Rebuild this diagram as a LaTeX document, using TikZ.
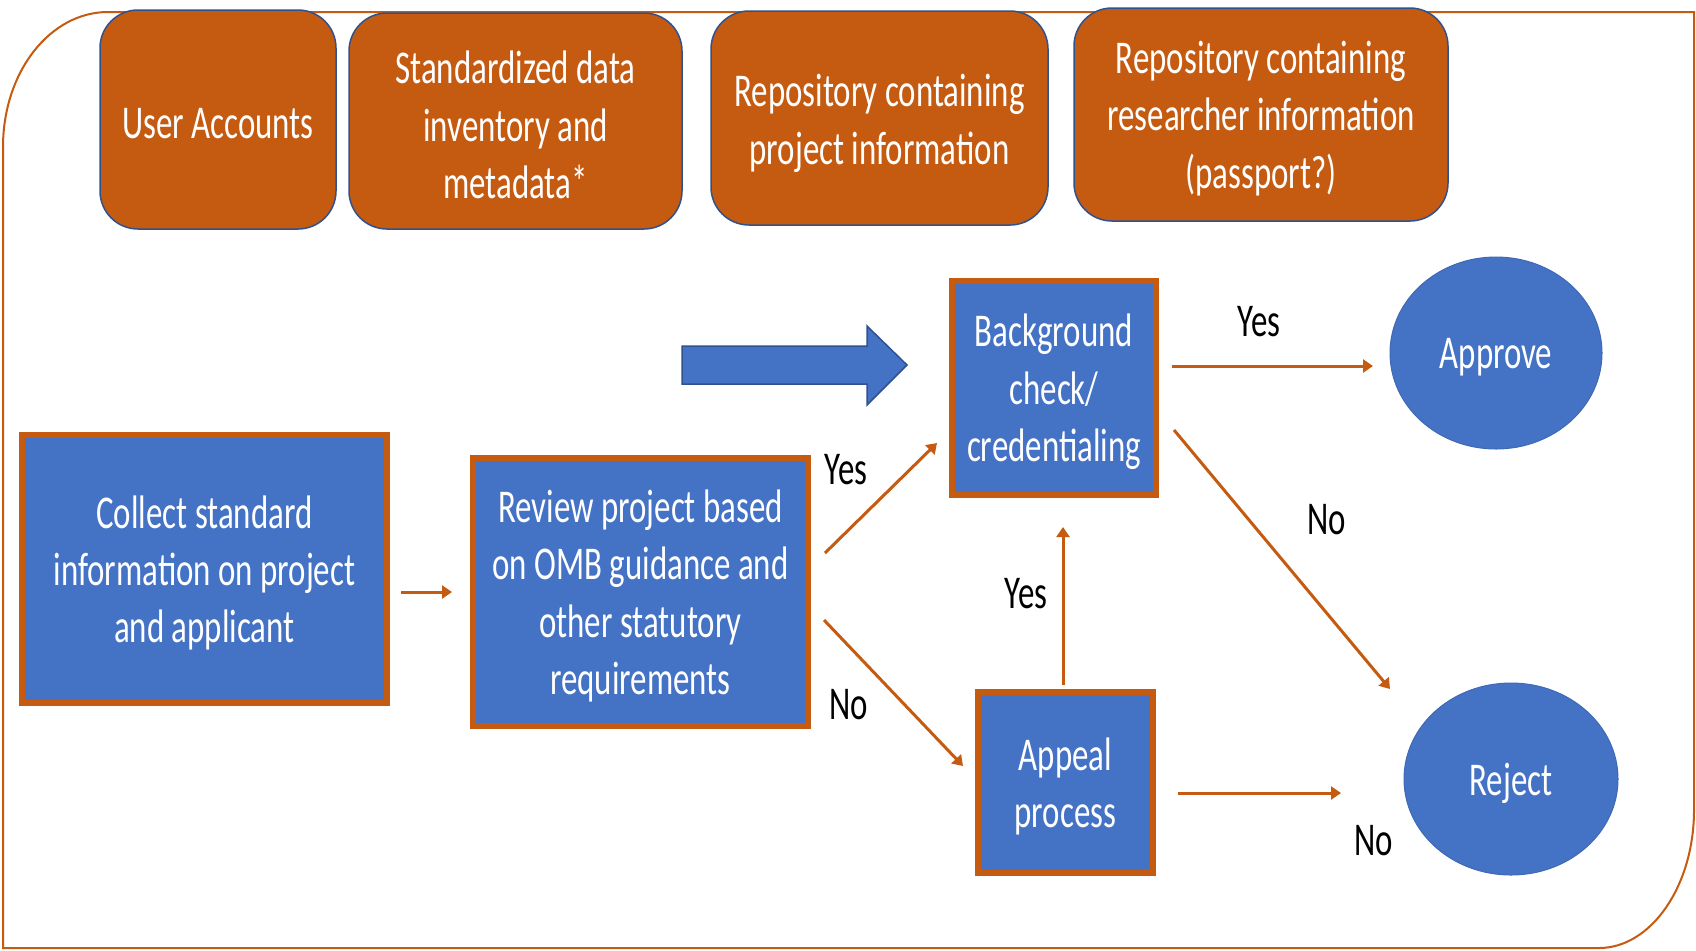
\documentclass[tikz,border=0pt]{standalone}
\usepackage{fontspec}
\setmainfont{Carlito}[FakeStretch=0.70]
\usetikzlibrary{arrows.meta,shapes.geometric}
\definecolor{orng}{HTML}{C55A11}
\definecolor{bl}{HTML}{4472C4}
\definecolor{dbl}{HTML}{2F528F}
\begin{document}
\begin{tikzpicture}[x=0.5pt,y=-0.5pt,
 txt/.style={font=\fontsize{23.5}{28.7}\selectfont, align=center, inner sep=0pt},
 intext/.style={txt, text=white, yshift=-2pt},
 topbox/.style={rectangle, rounded corners=19pt, fill=orng, draw=dbl, line width=0.75pt, inner sep=0pt},
 bluebox/.style={rectangle, fill=bl, draw=orng, line width=3pt, inner sep=0pt},
 oval/.style={ellipse, fill=bl, draw=bl!92!black, line width=0.5pt, inner sep=0pt},
 lbl/.style={txt, text=black},
 arr/.style={draw=orng, line width=1.5pt, -{Triangle[length=5pt,width=6.5pt]}},
 frame/.style={draw=orng, line width=1pt},
 blockarrow/.style={fill=bl, draw=dbl, line width=0.75pt}]
\useasboundingbox (0,0) rectangle (1696,950);

% outer frame
\draw[frame] (3,147) .. controls (3,72) and (50,12) .. (108,12) -- (1694,12) -- (1694,810)
  .. controls (1694,886) and (1651,948) .. (1599,948) -- (3,948) -- cycle;

% top boxes
\node[topbox, minimum width=118pt, minimum height=109.5pt,
  label={[intext]center:User Accounts}] (ua) at (218,119.5) {};
\node[topbox, minimum width=166.5pt, minimum height=108pt,
  label={[intext]center:Standardized data\\inventory and\\metadata*}] (sd) at (515.5,121) {};
\node[topbox, minimum width=168.5pt, minimum height=107pt,
  label={[intext, yshift=-0.7pt]center:Repository containing\\project information}] (rp) at (879.5,118) {};
\node[topbox, minimum width=187pt, minimum height=106.5pt,
  label={[intext]center:Repository containing\\researcher information\\(passport?)}] (rr) at (1261,114.5) {};

% block arrow
\draw[blockarrow] (682,346) -- (867,346) -- (867,326) -- (907,365) -- (867,405) -- (867,384) -- (682,384) -- cycle;

% process boxes
\node[bluebox, minimum width=182.5pt, minimum height=134pt,
  label={[intext]center:Collect standard\\information on project\\and applicant}] (collect) at (204.5,569) {};
\node[bluebox, minimum width=167.5pt, minimum height=134pt,
  label={[intext]center:Review project based\\on OMB guidance and\\other statutory\\requirements}] (review) at (640.5,592) {};
\node[bluebox, minimum width=102pt, minimum height=107pt,
  label={[intext]center:Background\\check/\\credentialing}] (bg) at (1054,388) {};
\node[bluebox, minimum width=87.5pt, minimum height=90.5pt,
  label={[intext]center:Appeal\\process}] (appeal) at (1065.5,782.5) {};

% outcomes
\node[oval, minimum width=106pt, minimum height=96pt,
  label={[intext]center:Approve}] (approve) at (1496,353) {};
\node[oval, minimum width=107pt, minimum height=96pt,
  label={[intext]center:Reject}] (reject) at (1511,779) {};

% connector end points
\coordinate (c1s) at (401,592);  \coordinate (c1e) at (452,592);
\coordinate (c2s) at (825,553);  \coordinate (c2e) at (937,443);
\coordinate (c3s) at (824,620);  \coordinate (c3e) at (963,766);
\coordinate (c4s) at (1172,366); \coordinate (c4e) at (1373,366);
\coordinate (c5s) at (1174,430); \coordinate (c5e) at (1390,689);
\coordinate (c6s) at (1063,685); \coordinate (c6e) at (1063,527);
\coordinate (c7s) at (1178,793); \coordinate (c7e) at (1341,793);

\draw[arr] (c1s) -- (c1e);
\draw[arr] (c2s) -- (c2e);
\draw[arr] (c3s) -- (c3e);
\draw[arr] (c4s) -- (c4e);
\draw[arr] (c5s) -- (c5e);
\draw[arr] (c6s) -- (c6e);
\draw[arr] (c7s) -- (c7e);

% labels
\node[lbl] (l1) at (846,470) {Yes};
\node[lbl] (l2) at (849,705) {No};
\node[lbl] (l3) at (1259,322) {Yes};
\node[lbl] (l4) at (1327,520) {No};
\node[lbl] (l5) at (1026,594) {Yes};
\node[lbl] (l6) at (1374,841) {No};
\end{tikzpicture}
\end{document}
